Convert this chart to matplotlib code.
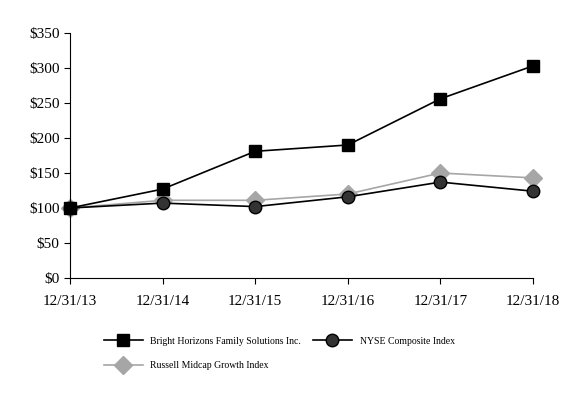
import matplotlib
matplotlib.use("Agg")
import matplotlib.pyplot as plt

years = ["12/31/13", "12/31/14", "12/31/15", "12/31/16", "12/31/17", "12/31/18"]
bright = [100, 127, 181, 190, 256, 303]
nyse = [100, 107, 102, 116, 137, 124]
russell = [100, 111, 111, 120, 150, 143]
yticks = [0, 50, 100, 150, 200, 250, 300, 350]

plt.rcParams["font.family"] = ["Liberation Serif"]

fig = plt.figure(figsize=(5.66, 4.0), dpi=100)
ax = fig.add_axes([70 / 566, 122 / 400, 463 / 566, 245 / 400])
x = range(len(years))

ax.plot(x, russell, color="#a6a6a6", marker="D", markersize=9, lw=1.2,
        clip_on=False, label="Russell Midcap Growth Index")
ax.plot(x, nyse, color="black", marker="o", markersize=9, markerfacecolor="#333333",
        lw=1.2, clip_on=False, label="NYSE Composite Index")
ax.plot(x, bright, color="black", marker="s", markersize=9, lw=1.2,
        clip_on=False, label="Bright Horizons Family Solutions Inc.")

ax.set_xlim(0, 5)
ax.set_ylim(0, 350)
ax.set_yticks(yticks)
ax.set_yticklabels([f"${v}" for v in yticks], fontsize=11)
ax.set_xticks(list(x))
ax.set_xticklabels(years, fontsize=11)
ax.tick_params(axis="x", length=4, pad=8)
ax.tick_params(axis="y", length=4)
for s in ["top", "right"]:
    ax.spines[s].set_visible(False)

h, l = ax.get_legend_handles_labels()
order = [2, 0, 1]  # column-wise fill: Bright, Russell | NYSE
fig.legend([h[i] for i in order], [l[i] for i in order], loc="upper left",
           bbox_to_anchor=(95 / 566, 1 - 328 / 400), ncol=2, frameon=False,
           fontsize=7, handlelength=4, columnspacing=1.2, labelspacing=1.6)

fig.savefig("out.png", dpi=100)
